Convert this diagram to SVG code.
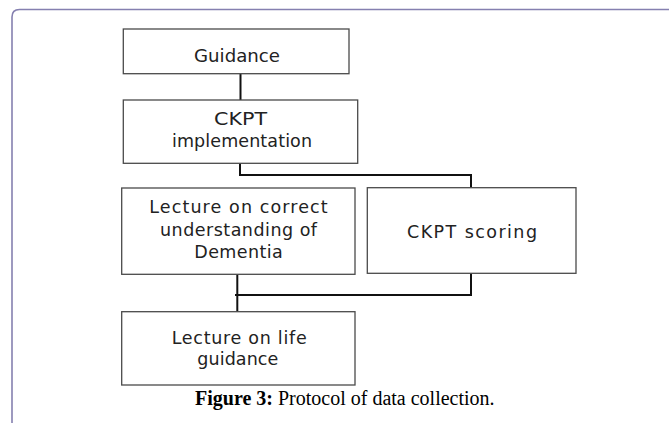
<svg xmlns="http://www.w3.org/2000/svg" width="669" height="423" viewBox="0 0 669 423">
<style>
.box{fill:#fff;stroke:#4a4a4a;stroke-width:1.3}
.lbl{font-family:"DejaVu Sans","Liberation Sans",Arial,sans-serif;font-size:17.5px;fill:#222;text-anchor:start}
.con{fill:none;stroke:#111;stroke-width:2}
.cap{font-family:"Liberation Serif","Times New Roman",serif;font-size:20px;fill:#000}
</style>
<rect width="669" height="423" fill="#fff"/>
<path d="M12 423 V17 Q12 9.5 19.5 9.5 H669" fill="none" stroke="#8580b0" stroke-width="1.6"/>
<g id="connectors">
<path class="con" d="M240.5 73.7 V100"/>
<path class="con" d="M240 163.3 V175 H471 V187.7"/>
<path class="con" d="M237.3 274.3 V311.7"/>
<path class="con" d="M235 295 H471 V273.3"/>
</g>
<g id="guidance">
<rect class="box" x="123.3" y="29" width="225.7" height="44.7"/>
<text class="lbl" x="194" y="62" textLength="86" lengthAdjust="spacingAndGlyphs">Guidance</text>
</g>
<g id="ckpt-implementation">
<rect class="box" x="123.3" y="100" width="234.4" height="63.3"/>
<text class="lbl" x="214" y="125" textLength="53" lengthAdjust="spacingAndGlyphs">CKPT</text>
<text class="lbl" x="172" y="147" textLength="140" lengthAdjust="spacing">implementation</text>
</g>
<g id="lecture-dementia">
<rect class="box" x="121.7" y="188" width="233.3" height="86.3"/>
<text class="lbl" x="149.3" y="213.3" textLength="178.4" lengthAdjust="spacing">Lecture on correct</text>
<text class="lbl" x="160" y="236" textLength="157" lengthAdjust="spacing">understanding of</text>
<text class="lbl" x="194.3" y="258.3" textLength="88.4" lengthAdjust="spacing">Dementia</text>
</g>
<g id="ckpt-scoring">
<rect class="box" x="367.3" y="187.7" width="208.7" height="85.6"/>
<text class="lbl" x="407" y="238" textLength="130" lengthAdjust="spacing">CKPT scoring</text>
</g>
<g id="lecture-life">
<rect class="box" x="121.7" y="311.7" width="233.3" height="73.3"/>
<text class="lbl" x="171.7" y="344" textLength="135" lengthAdjust="spacing">Lecture on life</text>
<text class="lbl" x="197.3" y="365" textLength="81" lengthAdjust="spacing">guidance</text>
</g>
<text class="cap" x="195" y="405"><tspan font-weight="bold">Figure 3:</tspan> Protocol of data collection.</text>
</svg>
